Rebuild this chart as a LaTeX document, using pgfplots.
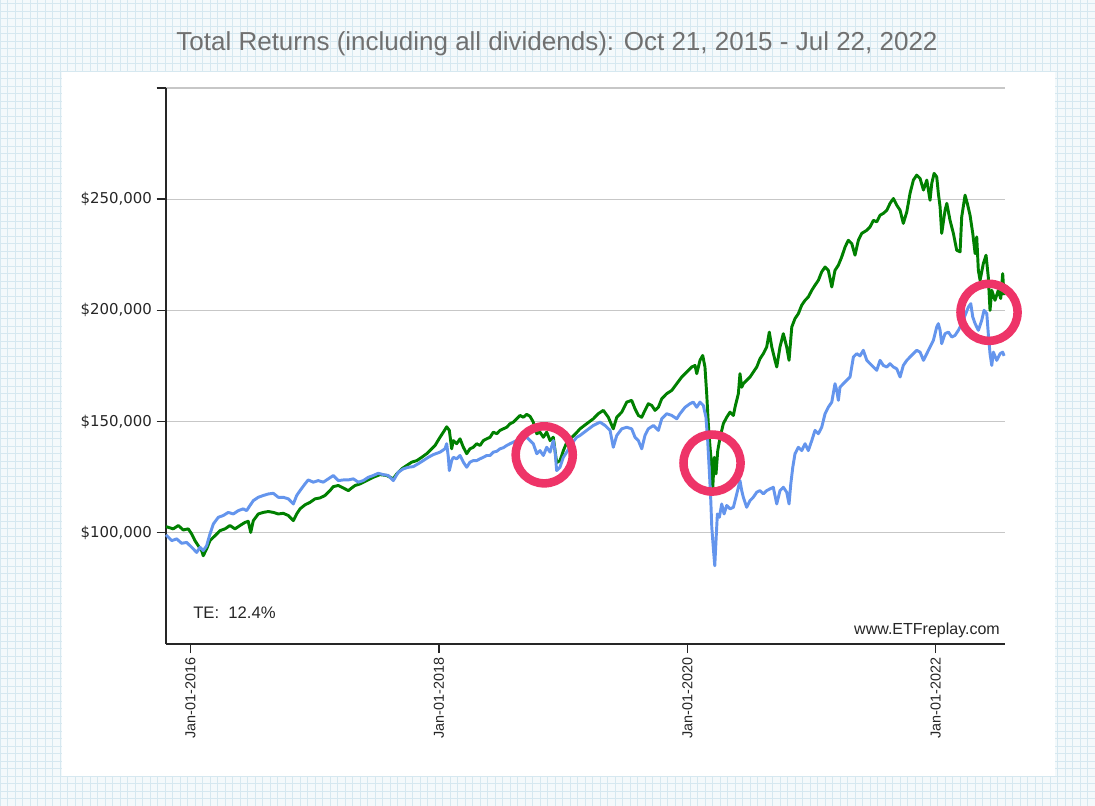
\documentclass[border=0pt]{standalone}
\usepackage{fontspec}
\setmainfont{Liberation Sans}
\newfontfamily\dejavu{DejaVu Sans}
\usepackage{pgfplots}
\usepackage{pgfplotstable}
\pgfplotsset{compat=1.18}
\definecolor{ggreen}{RGB}{0,128,0}
\definecolor{gblue}{RGB}{100,149,237}
\definecolor{circ}{RGB}{238,52,104}
\definecolor{bgc}{RGB}{244,249,251}
\definecolor{gridc}{RGB}{214,232,240}
\definecolor{titlec}{RGB}{112,112,112}

\pgfplotstableread{
year value
2015.803 102.7
2015.861 101.7
2015.902 103.2
2015.942 101.2
2015.982 101.7
2016.010 99.4
2016.036 96.4
2016.063 94.1
2016.090 91.9
2016.103 89.6
2016.130 92.7
2016.157 96.4
2016.197 98.6
2016.238 100.9
2016.278 101.7
2016.318 103.2
2016.358 101.7
2016.399 103.2
2016.439 104.6
2016.465 105.1
2016.485 100.1
2016.506 105.4
2016.546 108.4
2016.586 109.1
2016.627 109.5
2016.667 109.1
2016.707 108.4
2016.747 108.7
2016.788 107.7
2016.828 105.4
2016.855 108.4
2016.882 110.7
2016.922 112.5
2016.962 113.6
2017.003 115.2
2017.043 115.6
2017.083 116.7
2017.123 118.9
2017.150 120.7
2017.190 121.2
2017.230 120.1
2017.271 118.9
2017.298 120.1
2017.325 121.2
2017.365 121.9
2017.419 123.4
2017.472 124.9
2017.526 126.1
2017.580 125.7
2017.633 124.2
2017.660 126.4
2017.701 128.7
2017.741 130.2
2017.781 131.7
2017.822 132.4
2017.862 133.9
2017.902 135.5
2017.942 137.7
2017.969 139.2
2018.009 142.9
2018.036 145.2
2018.063 147.6
2018.084 146.0
2018.103 137.7
2018.116 141.4
2018.143 140.0
2018.170 142.2
2018.197 138.4
2018.224 135.5
2018.250 137.7
2018.277 138.4
2018.304 140.0
2018.331 139.2
2018.358 141.4
2018.385 142.2
2018.412 142.9
2018.438 145.2
2018.466 144.5
2018.492 146.0
2018.519 146.7
2018.546 147.4
2018.573 149.0
2018.599 149.7
2018.626 151.2
2018.653 152.7
2018.680 151.9
2018.707 153.2
2018.734 152.3
2018.760 149.7
2018.788 144.5
2018.814 145.2
2018.841 142.9
2018.868 145.2
2018.895 141.4
2018.921 142.9
2018.948 131.5
2018.975 132.4
2019.002 136.9
2019.029 140.5
2019.069 142.8
2019.109 145.0
2019.136 146.7
2019.190 149.0
2019.243 151.2
2019.283 153.5
2019.324 155.0
2019.364 151.9
2019.404 146.7
2019.432 151.9
2019.472 154.2
2019.512 158.7
2019.552 159.5
2019.579 155.7
2019.606 152.7
2019.633 151.9
2019.659 155.0
2019.686 158.0
2019.714 157.2
2019.740 155.0
2019.767 156.4
2019.794 160.2
2019.834 162.5
2019.875 164.0
2019.915 167.0
2019.955 170.0
2019.995 172.2
2020.035 174.5
2020.062 175.2
2020.076 171.5
2020.102 177.5
2020.124 179.7
2020.142 174.5
2020.156 162.5
2020.169 149.0
2020.183 138.4
2020.197 129.4
2020.205 120.4
2020.217 133.9
2020.231 126.4
2020.245 136.9
2020.264 142.9
2020.290 149.0
2020.317 151.9
2020.344 154.2
2020.371 152.7
2020.384 156.4
2020.411 162.5
2020.424 171.5
2020.438 165.4
2020.451 167.0
2020.478 168.5
2020.505 170.0
2020.531 172.2
2020.559 174.5
2020.585 178.2
2020.612 180.5
2020.639 183.5
2020.660 190.2
2020.680 183.5
2020.706 177.5
2020.720 174.5
2020.746 183.5
2020.773 189.5
2020.800 183.5
2020.819 177.5
2020.841 192.5
2020.867 196.3
2020.894 198.5
2020.921 202.3
2020.948 204.5
2020.974 206.0
2021.002 209.0
2021.028 211.3
2021.055 213.5
2021.082 217.3
2021.109 219.5
2021.135 218.0
2021.163 210.5
2021.189 218.0
2021.216 220.3
2021.243 224.0
2021.270 228.5
2021.296 231.5
2021.324 230.0
2021.350 224.8
2021.377 231.5
2021.404 234.6
2021.445 236.0
2021.471 237.5
2021.498 240.5
2021.525 239.8
2021.552 242.8
2021.578 243.6
2021.606 245.0
2021.632 248.1
2021.659 250.3
2021.686 247.3
2021.713 245.0
2021.739 239.1
2021.767 244.3
2021.793 252.6
2021.820 258.6
2021.847 260.8
2021.874 259.3
2021.901 254.1
2021.928 258.6
2021.954 249.5
2021.968 257.1
2021.987 261.6
2022.008 260.0
2022.021 252.6
2022.035 246.5
2022.048 234.6
2022.075 245.0
2022.089 248.1
2022.115 240.5
2022.142 234.6
2022.169 227.0
2022.196 226.3
2022.209 242.0
2022.236 251.8
2022.254 248.1
2022.276 242.8
2022.298 234.6
2022.317 225.5
2022.330 233.0
2022.343 218.0
2022.357 213.5
2022.383 221.0
2022.405 224.8
2022.423 215.0
2022.437 200.0
2022.451 209.0
2022.477 204.5
2022.504 209.0
2022.523 205.3
2022.539 216.5
2022.550 206.8
}\greendata

\pgfplotstableread{
year value
2015.803 99.0
2015.849 96.4
2015.889 97.2
2015.929 95.2
2015.969 95.6
2016.010 93.4
2016.050 91.1
2016.077 93.4
2016.103 91.9
2016.130 94.1
2016.157 99.4
2016.184 103.9
2016.224 106.9
2016.264 107.7
2016.304 109.1
2016.345 108.4
2016.385 109.9
2016.425 110.7
2016.452 109.9
2016.479 112.2
2016.506 114.4
2016.546 115.9
2016.586 116.7
2016.627 117.4
2016.667 117.7
2016.707 115.9
2016.747 115.9
2016.788 115.2
2016.828 112.9
2016.855 116.7
2016.882 118.9
2016.922 121.9
2016.948 123.7
2016.989 122.7
2017.029 123.4
2017.069 122.7
2017.110 124.2
2017.150 125.7
2017.190 123.4
2017.230 123.7
2017.271 123.7
2017.311 124.2
2017.351 122.7
2017.391 123.4
2017.432 124.9
2017.472 125.7
2017.512 126.7
2017.552 126.1
2017.593 125.7
2017.633 123.4
2017.673 127.2
2017.714 128.7
2017.754 129.4
2017.794 129.7
2017.834 131.0
2017.874 132.4
2017.915 133.9
2017.955 135.1
2018.009 136.2
2018.049 137.7
2018.063 140.0
2018.076 133.9
2018.084 127.9
2018.103 132.4
2018.116 133.9
2018.143 133.2
2018.170 134.7
2018.197 131.7
2018.224 129.4
2018.250 131.7
2018.277 132.4
2018.304 132.4
2018.331 133.2
2018.358 133.9
2018.385 134.7
2018.412 134.7
2018.438 136.2
2018.466 136.6
2018.492 137.7
2018.519 138.2
2018.546 139.2
2018.573 140.0
2018.599 140.7
2018.626 141.4
2018.653 142.2
2018.680 142.2
2018.707 142.9
2018.734 141.4
2018.760 140.0
2018.788 135.5
2018.814 136.9
2018.841 134.7
2018.868 138.4
2018.895 136.2
2018.921 141.4
2018.935 136.9
2018.948 127.9
2018.975 129.4
2019.002 133.9
2019.029 136.2
2019.069 140.0
2019.109 142.9
2019.136 143.7
2019.190 146.0
2019.243 148.2
2019.297 149.7
2019.338 148.2
2019.378 146.0
2019.404 138.4
2019.432 143.7
2019.472 146.7
2019.512 147.4
2019.552 146.7
2019.579 142.9
2019.606 141.4
2019.633 137.7
2019.659 143.7
2019.686 146.7
2019.727 148.2
2019.767 146.0
2019.794 151.2
2019.834 153.5
2019.875 152.7
2019.915 151.2
2019.941 153.5
2019.982 156.4
2020.022 158.0
2020.048 158.7
2020.076 156.4
2020.102 158.7
2020.129 157.2
2020.150 151.9
2020.164 141.4
2020.177 127.9
2020.189 114.4
2020.197 102.4
2020.209 93.4
2020.221 85.1
2020.231 96.4
2020.242 108.4
2020.258 106.9
2020.277 112.9
2020.296 108.4
2020.317 112.2
2020.344 110.7
2020.371 111.4
2020.398 117.4
2020.424 123.4
2020.438 118.9
2020.451 115.9
2020.478 111.4
2020.505 114.4
2020.531 115.9
2020.559 118.2
2020.585 118.9
2020.612 117.4
2020.639 118.9
2020.666 119.7
2020.692 120.4
2020.720 112.9
2020.746 118.9
2020.773 120.4
2020.800 118.2
2020.819 112.9
2020.833 121.9
2020.849 129.4
2020.867 135.5
2020.894 138.4
2020.921 136.9
2020.948 140.0
2020.974 136.9
2021.002 141.4
2021.028 146.0
2021.055 144.5
2021.082 147.4
2021.109 153.5
2021.135 156.4
2021.163 158.7
2021.189 167.0
2021.203 164.0
2021.216 159.5
2021.229 165.4
2021.256 167.0
2021.283 168.5
2021.310 170.0
2021.337 179.0
2021.364 180.5
2021.390 179.5
2021.417 182.0
2021.445 177.5
2021.471 176.0
2021.498 174.5
2021.525 173.0
2021.552 177.5
2021.578 175.2
2021.606 174.5
2021.632 176.0
2021.659 174.5
2021.686 173.7
2021.713 170.0
2021.739 175.2
2021.767 177.5
2021.793 179.0
2021.820 180.5
2021.847 182.0
2021.874 181.2
2021.901 177.5
2021.928 180.5
2021.954 183.5
2021.981 186.5
2022.008 192.5
2022.021 194.0
2022.035 191.0
2022.048 185.0
2022.075 189.5
2022.102 190.2
2022.129 188.0
2022.155 188.7
2022.182 191.0
2022.209 194.0
2022.236 197.7
2022.263 201.5
2022.282 203.0
2022.298 197.0
2022.317 194.0
2022.343 191.0
2022.370 195.5
2022.389 200.0
2022.411 198.5
2022.423 189.5
2022.437 180.5
2022.451 175.2
2022.464 181.2
2022.491 177.5
2022.518 180.5
2022.539 181.2
2022.550 179.5
}\bluedata

\begin{document}
\begin{tikzpicture}
\fill[bgc] (0,0) rectangle (821.25pt,604.5pt);
\draw[gridc, line width=0.4pt, step=5.625pt] (0,0) grid (821.25pt,604.5pt);
\fill[white] (46.5pt,22.5pt) rectangle (791.25pt,550.5pt);
\node[titlec, font=\fontsize{19.5}{22}\selectfont, inner sep=0pt] at (417.75pt,571.5pt)
  {Total Returns (including all dividends): Oct 21, 2015 - Jul 22, 2022};
\begin{axis}[
  at={(124.5pt,121.65pt)}, anchor=south west,
  scale only axis, width=629.1pt, height=416.85pt,
  xmin=2015.803, xmax=2022.556, ymin=50, ymax=300,
  clip=false,
  axis x line*=bottom, axis y line*=left,
  axis line style={-, black!85, line width=1.1pt},
  xtick={2016,2018,2020,2022},
  xticklabels={Jan-01-2016,Jan-01-2018,Jan-01-2020,Jan-01-2022},
  xticklabel style={rotate=90, anchor=east, font=\fontsize{10.8}{12}\selectfont, text=black!85},
  ytick={100,150,200,250,300},
  yticklabels={{\$100,000},{\$150,000},{\$200,000},{\$250,000},{}},
  yticklabel style={font=\fontsize{11.2}{12}\dejavu, text=black!85},
  ymajorgrids, grid style={black!22, line width=0.8pt},
  tick align=outside, major tick length=7pt,
  tick style={black!85, line width=1pt},
]
\addplot[ggreen, line width=2.2pt, line join=round] table[x=year, y=value] {\greendata};
\addplot[gblue, line width=2.2pt, line join=round] table[x=year, y=value] {\bluedata};
\draw[circ, line width=6.4pt] (axis cs:2018.848,135.0) circle[radius=21.4pt];
\draw[circ, line width=6.4pt] (axis cs:2020.199,131.3) circle[radius=21.4pt];
\draw[circ, line width=6.4pt] (axis cs:2022.429,199.1) circle[radius=21.4pt];
\end{axis}
\node[anchor=west, inner sep=0pt, font=\fontsize{12.5}{14}\selectfont, text=black!85] at (144.75pt,145pt) {TE:\ \ 12.4\%};
\node[anchor=east, inner sep=0pt, font=\fontsize{12}{14}\selectfont, text=black!85] at (750pt,131.5pt) {www.ETFreplay.com};
\pgfresetboundingbox
\useasboundingbox (0,0) rectangle (821.25pt,604.5pt);
\end{tikzpicture}
\end{document}
